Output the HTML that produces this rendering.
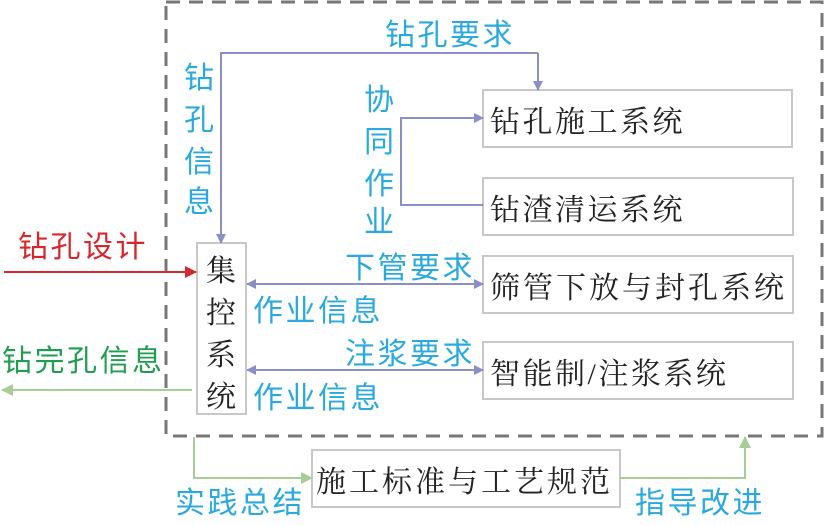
<!DOCTYPE html>
<html><head><meta charset="utf-8"><style>
body{margin:0;width:826px;height:520px;background:#fff;overflow:hidden}
svg text{font-family:"Liberation Sans","Noto Sans CJK SC",sans-serif;font-size:30px;letter-spacing:2.5px}
.b{fill:#29a9df}.k{fill:#222}
.k text{font-family:"Liberation Serif","Noto Serif CJK SC",serif}
</style></head><body>
<svg width="826" height="520" viewBox="0 0 826 520">
<defs>
<marker id="p" markerWidth="10" markerHeight="10" refX="9" refY="5" orient="auto-start-reverse" markerUnits="userSpaceOnUse"><path d="M0,0L10,5L0,10z" fill="#8a8fc4"/></marker>
<marker id="r" markerWidth="12" markerHeight="12" refX="11" refY="6" orient="auto" markerUnits="userSpaceOnUse"><path d="M0,0L12,6L0,12z" fill="#d9262c"/></marker>
<marker id="g" markerWidth="12" markerHeight="12" refX="11" refY="6" orient="auto" markerUnits="userSpaceOnUse"><path d="M0,0L12,6L0,12z" fill="#a8cc98"/></marker>
</defs>
<rect x="166" y="2" width="656" height="434" fill="none" stroke="#777" stroke-width="3" stroke-dasharray="14,9"/>
<g fill="#fff" stroke="#c8c8c8" stroke-width="2">
<rect x="483" y="90" width="309" height="57"/>
<rect x="483" y="178" width="310" height="57"/>
<rect x="483" y="256" width="310" height="57"/>
<rect x="483" y="342" width="310" height="57"/>
<rect x="197" y="243" width="49" height="171"/>
<rect x="312" y="450" width="308" height="57"/>
</g>
<g fill="none" stroke="#8a8fc4" stroke-width="2">
<path d="M538,53H221V243" marker-end="url(#p)"/>
<path d="M538,53V90" marker-end="url(#p)"/>
<path d="M483,205H401V118H483" marker-end="url(#p)"/>
<path d="M247,284H483" marker-start="url(#p)" marker-end="url(#p)"/>
<path d="M247,370H483" marker-start="url(#p)" marker-end="url(#p)"/>
</g>
<path d="M4,272H196" stroke="#d9262c" stroke-width="2" marker-end="url(#r)"/>
<g fill="none" stroke="#a8cc98" stroke-width="2">
<path d="M192,390H2" marker-end="url(#g)"/>
<path d="M194,437V478H312" marker-end="url(#g)"/>
<path d="M620,478H745V437" marker-end="url(#g)"/>
</g>
<g class="k">
<text x="490" y="132">钻孔施工系统</text>
<text x="490" y="220">钻渣清运系统</text>
<text x="490" y="298" style="letter-spacing:3px">筛管下放与封孔系统</text>
<text x="490" y="384">智能制/注浆系统</text>
<text x="316" y="492" style="letter-spacing:3px">施工标准与工艺规范</text>
<text x="206" y="281">集</text><text x="206" y="323">控</text><text x="206" y="365">系</text><text x="206" y="407">统</text>
</g>
<g class="b">
<text x="385" y="45">钻孔要求</text>
<text x="184" y="88">钻</text><text x="184" y="130">孔</text><text x="184" y="172">信</text><text x="184" y="212">息</text>
<text x="364" y="110">协</text><text x="364" y="152">同</text><text x="364" y="194">作</text><text x="364" y="232">业</text>
<text x="345" y="278">下管要求</text>
<text x="253" y="321">作业信息</text>
<text x="345" y="364">注浆要求</text>
<text x="253" y="408">作业信息</text>
<text x="175" y="513">实践总结</text>
<text x="635" y="513">指导改进</text>
</g>
<text x="18" y="257" fill="#d9262c">钻孔设计</text>
<text x="2" y="371" fill="#1e9e4e">钻完孔信息</text>
</svg>
</body></html>
